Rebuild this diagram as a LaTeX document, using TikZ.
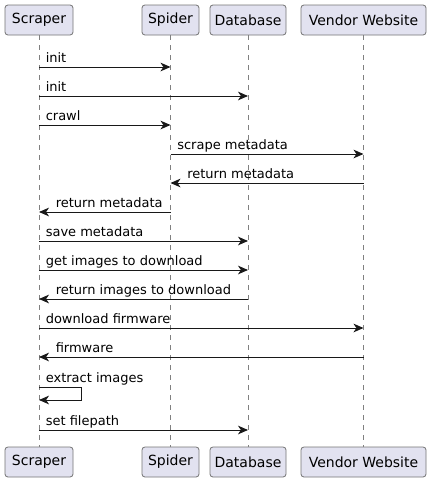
\documentclass[tikz,border=0pt]{standalone}
\usepackage{fontspec}
\setmainfont{DejaVu Sans}
\usetikzlibrary{arrows.meta,positioning}
\definecolor{boxfill}{HTML}{E2E2F0}
\definecolor{ink}{HTML}{181818}

\begin{document}
\begin{tikzpicture}[x=0.75pt, y=-0.75pt,
    actor/.style={draw=ink!60, fill=boxfill, rounded corners=2.2pt, line width=0.6pt, minimum height=22.5pt, inner xsep=0pt, font=\fontsize{10.5}{12}\selectfont},
    lifeline/.style={draw=ink!55, line width=0.4pt, dash pattern=on 3.75pt off 3.75pt},
    msg/.style={draw=ink, line width=0.75pt, -{Stealth[length=7.5pt, width=6.5pt, inset=2.2pt]}},
    msgtext/.style={anchor=base west, inner sep=0pt, font=\fontsize{9.75}{11}\selectfont}]
    \useasboundingbox (0,0) rectangle (431,482);

    % participants, top and bottom
    \node[actor, minimum width=51pt] (scr) at (39,20) {Scraper};
    \node[actor, minimum width=42.75pt] (spi) at (170.5,20) {Spider};
    \node[actor, minimum width=57pt] (db) at (248,20) {Database};
    \node[actor, minimum width=93.75pt] (vw) at (363.5,20) {Vendor Website};

    \node[actor, minimum width=51pt] (scr2) at (39,462) {Scraper};
    \node[actor, minimum width=42.75pt] (spi2) at (170.5,462) {Spider};
    \node[actor, minimum width=57pt] (db2) at (248,462) {Database};
    \node[actor, minimum width=93.75pt] (vw2) at (363.5,462) {Vendor Website};

    \foreach \a/\b in {scr/scr2, spi/spi2, db/db2, vw/vw2}
        \draw[lifeline] (\a) -- (\b);

    % messages: y / from / to / label at / offset / text
    \foreach \y/\a/\b/\c/\dx/\txt in {
        67/scr/spi/scr/6.5/init,
        96/scr/db/scr/6.5/init,
        125/scr/spi/scr/6.5/crawl,
        154/spi/vw/spi/6.5/scrape metadata,
        183/vw/spi/spi/16.5/return metadata,
        212/spi/scr/scr/16.5/return metadata,
        241/scr/db/scr/6.5/save metadata,
        270/scr/db/scr/6.5/get images to download,
        299/db/scr/scr/16.5/return images to download,
        328/scr/vw/scr/6.5/download firmware,
        357/vw/scr/scr/16.5/firmware,
        430/scr/db/scr/6.5/set filepath}
    {
        \draw[msg] (\a |- 0,\y) -- (\b |- 0,\y);
        \node[msgtext] at ([xshift=\dx*0.75pt]\c |- 0,\y-4.5) {\txt};
    }

    % self message
    \draw[msg] (scr |- 0,387) -- ++(42.5,0) -- ++(0,13) -- (scr |- 0,400);
    \node[msgtext] (extract) at ([xshift=4.9pt]scr |- 0,382.5) {extract images};
\end{tikzpicture}
\end{document}
